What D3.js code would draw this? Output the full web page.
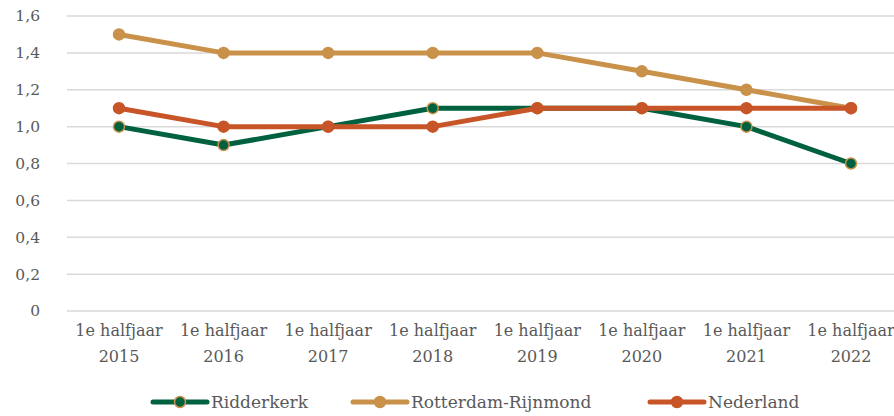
<!DOCTYPE html>
<html>
<head>
<meta charset="utf-8">
<script src="https://cdn.jsdelivr.net/npm/d3@7/dist/d3.min.js"></script>
<style>
  html, body { margin: 0; padding: 0; background: #fff; }
  svg { display: block; }
  text { font-family: "DejaVu Serif", "Liberation Serif", serif; fill: #595959; }
</style>
</head>
<body>
<svg id="chart" width="894" height="416"></svg>
<script>
// Periods on the x axis (two-line labels)
const periods = ["2015", "2016", "2017", "2018", "2019", "2020", "2021", "2022"];
const periodPrefix = "1e halfjaar";

// Series values
const ridderkerk = [1.0, 0.9, 1.0, 1.1, 1.1, 1.1, 1.0, 0.8];
const rotterdamRijnmond = [1.5, 1.4, 1.4, 1.4, 1.4, 1.3, 1.2, 1.1];
const nederland = [1.1, 1.0, 1.0, 1.0, 1.1, 1.1, 1.1, 1.1];

// Y axis ticks
const yTicks = [0, 0.2, 0.4, 0.6, 0.8, 1.0, 1.2, 1.4, 1.6];

const series = [
  { name: "Ridderkerk", values: ridderkerk, color: "#00613f", marker: "#00613f", markerStroke: "#c9914a" },
  { name: "Rotterdam-Rijnmond", values: rotterdamRijnmond, color: "#c9914a", marker: "#c9914a", markerStroke: "#c9914a" },
  { name: "Nederland", values: nederland, color: "#c75527", marker: "#c75527", markerStroke: "#c75527" }
];

const svg = d3.select("#chart");

const x = d3.scalePoint().domain(periods).range([119, 851]);
const y = d3.scaleLinear().domain([0, 1.6]).range([311, 16]);

const fmt = v => v === 0 ? "0" : d3.format(".1f")(v).replace(".", ",");

// Gridlines
svg.append("g")
  .selectAll("line")
  .data(yTicks)
  .join("line")
  .attr("x1", 67).attr("x2", 894)
  .attr("y1", d => y(d)).attr("y2", d => y(d))
  .attr("stroke", "#d9d9d9")
  .attr("stroke-width", 1.5);

// Y axis labels
const yAxis = d3.axisLeft(y).tickValues(yTicks).tickFormat(fmt).tickSize(0).tickPadding(0);
svg.append("g")
  .attr("transform", "translate(40,0)")
  .call(yAxis)
  .call(g => g.select(".domain").remove())
  .call(g => g.selectAll("text")
    .attr("fill", "#595959")
    .style("font-size", "15.5px")
    .style("font-family", "'DejaVu Serif', serif"));

// X axis labels
const xl = svg.append("g").selectAll("text")
  .data(periods)
  .join("text")
  .attr("x", d => x(d))
  .attr("text-anchor", "middle")
  .style("font-size", "16px");
xl.append("tspan").attr("x", d => x(d)).attr("y", 336).text(periodPrefix);
xl.append("tspan").attr("x", d => x(d)).attr("y", 362).text(d => d);

// Lines and markers
const line = d3.line()
  .x((d, i) => x(periods[i]))
  .y(d => y(d));

series.forEach(s => {
  const g = svg.append("g");
  g.append("path")
    .datum(s.values)
    .attr("d", line)
    .attr("fill", "none")
    .attr("stroke", s.color)
    .attr("stroke-width", 5)
    .attr("stroke-linejoin", "round");
  g.selectAll("circle")
    .data(s.values)
    .join("circle")
    .attr("cx", (d, i) => x(periods[i]))
    .attr("cy", d => y(d))
    .attr("r", 5.5)
    .attr("fill", s.marker)
    .attr("stroke", s.markerStroke)
    .attr("stroke-width", 1.5);
});

// Legend
const legendX = [153, 353, 650];
const legend = svg.append("g").selectAll("g")
  .data(series)
  .join("g")
  .attr("transform", (d, i) => `translate(${legendX[i]},402)`);
legend.append("line")
  .attr("x1", 0).attr("x2", 54)
  .attr("stroke", d => d.color)
  .attr("stroke-width", 5)
  .attr("stroke-linecap", "round");
legend.append("circle")
  .attr("cx", 27).attr("r", 5.5)
  .attr("fill", d => d.marker)
  .attr("stroke", d => d.markerStroke)
  .attr("stroke-width", 1.5);
legend.append("text")
  .attr("x", 58).attr("y", 6)
  .style("font-size", "17px")
  .text(d => d.name);
</script>
</body>
</html>
